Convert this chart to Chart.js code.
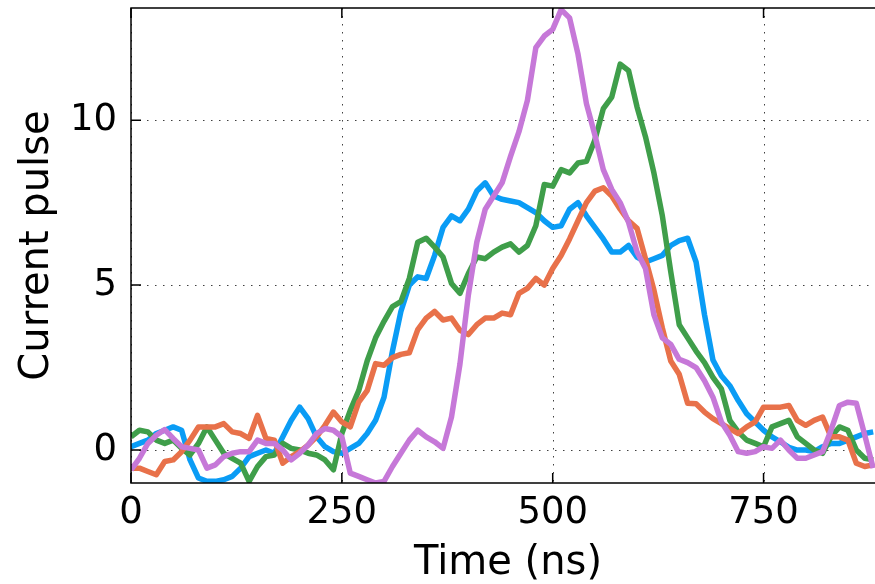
<!DOCTYPE html>
<html>
<head>
<meta charset="utf-8">
<script src="https://cdn.jsdelivr.net/npm/chart.js@4"></script>
<style>
    html, body { margin: 0; padding: 0; overflow: hidden; background: #fff; }
    #wrap { width: 885px; height: 584px; }
</style>
</head>
<body>
<div id="wrap"><canvas id="chart" width="885" height="584"></canvas></div>
<script>
// time axis (ns)
const timeNs = [0, 10, 20, 30, 40, 50, 60, 70, 80, 90, 100, 110, 120, 130, 140, 150, 160, 170, 180, 190,
    200, 210, 220, 230, 240, 250, 260, 270, 280, 290, 300, 310, 320, 330, 340, 350, 360, 370, 380, 390,
    400, 410, 420, 430, 440, 450, 460, 470, 480, 490, 500, 510, 520, 530, 540, 550, 560, 570, 580, 590,
    600, 610, 620, 630, 640, 650, 660, 670, 680, 690, 700, 710, 720, 730, 740, 750, 760, 770, 780, 790,
    800, 810, 820, 830, 840, 850, 860, 870, 880];

const pulseBlue = [0.1, 0.2, 0.3, 0.5, 0.6, 0.7, 0.6, -0.3, -0.85, -0.95, -0.95, -0.9, -0.8, -0.55, -0.2, -0.1, 0.0, -0.1, 0.4, 0.9,
    1.3, 0.95, 0.4, 0.1, -0.05, -0.1, 0.05, 0.2, 0.5, 0.9, 1.6, 3.0, 4.2, 5.0, 5.25, 5.2, 5.9, 6.75, 7.1, 6.95,
    7.3, 7.85, 8.1, 7.7, 7.6, 7.55, 7.5, 7.35, 7.2, 6.95, 6.75, 6.8, 7.3, 7.5, 7.1, 6.75, 6.4, 6.0, 6.0, 6.2,
    5.85, 5.7, 5.8, 5.9, 6.2, 6.35, 6.42, 5.7, 4.1, 2.73, 2.25, 1.95, 1.5, 1.1, 0.85, 0.6, 0.4, 0.25, 0.08, 0.0,
    0.0, -0.05, 0.1, 0.2, 0.2, 0.3, 0.4, 0.5, 0.55];

const pulseGreen = [0.4, 0.6, 0.55, 0.3, 0.2, 0.3, 0.05, -0.15, 0.2, 0.7, 0.3, -0.1, -0.25, -0.4, -0.95, -0.5, -0.2, -0.15, 0.2, 0.05,
    0.0, -0.1, -0.15, -0.3, -0.6, 0.5, 1.2, 1.8, 2.7, 3.4, 3.9, 4.35, 4.5, 5.2, 6.3, 6.42, 6.15, 5.85, 5.05, 4.75,
    5.35, 5.85, 5.8, 6.0, 6.15, 6.25, 6.0, 6.2, 6.8, 8.05, 8.0, 8.5, 8.4, 8.7, 8.75, 9.4, 10.35, 10.7, 11.7, 11.5,
    10.4, 9.5, 8.4, 7.1, 5.4, 3.8, 3.4, 3.0, 2.65, 2.2, 1.85, 0.9, 0.55, 0.3, 0.2, 0.1, 0.7, 0.8, 0.9, 0.4,
    0.2, 0.0, -0.1, 0.4, 0.7, 0.6, 0.0, -0.25, -0.3];

const pulseOrange = [-0.55, -0.55, -0.65, -0.75, -0.35, -0.3, -0.05, 0.3, 0.7, 0.7, 0.7, 0.8, 0.55, 0.5, 0.35, 1.05, 0.35, 0.3, -0.4, -0.2,
    -0.05, 0.15, 0.4, 0.75, 1.15, 0.85, 0.7, 1.45, 1.8, 2.62, 2.57, 2.8, 2.9, 2.95, 3.65, 4.0, 4.2, 3.94, 4.0, 3.63,
    3.5, 3.8, 4.0, 4.0, 4.15, 4.1, 4.75, 4.9, 5.2, 5.0, 5.5, 5.9, 6.4, 6.95, 7.5, 7.85, 7.95, 7.7, 7.3, 6.95,
    6.72, 5.8, 4.85, 3.7, 2.7, 2.3, 1.42, 1.4, 1.15, 0.95, 0.8, 0.65, 0.5, 0.7, 0.85, 1.3, 1.3, 1.3, 1.35, 0.9,
    0.75, 0.9, 1.0, 0.4, 0.4, 0.3, -0.4, -0.5, -0.45];

const pulsePurple = [-0.6, -0.25, 0.2, 0.45, 0.62, 0.35, 0.1, 0.05, 0.0, -0.55, -0.45, -0.2, -0.1, -0.05, -0.05, 0.3, 0.2, 0.2, 0.0, -0.3,
    -0.1, 0.15, 0.5, 0.65, 0.6, 0.4, -0.7, -0.8, -0.9, -1.0, -0.95, -0.5, -0.1, 0.3, 0.6, 0.4, 0.25, 0.05, 1.0, 2.6,
    4.7, 6.3, 7.3, 7.7, 8.1, 8.9, 9.65, 10.6, 12.2, 12.55, 12.75, 13.35, 13.1, 12.0, 10.5, 9.55, 8.5, 7.9, 7.5, 6.9,
    6.0, 5.5, 4.1, 3.4, 3.2, 2.75, 2.65, 2.5, 2.1, 1.6, 0.85, 0.45, -0.05, -0.1, -0.05, 0.1, 0.05, 0.3, 0.0, -0.25,
    -0.25, -0.15, -0.05, 0.6, 1.35, 1.45, 1.42, 0.45, -0.55];

const xTicks = [0, 250, 500, 750];
const yTicks = [0, 5, 10];

const FONT = "'DejaVu Sans', sans-serif";

function toPoints(values) {
    return values.map((v, i) => ({ x: timeNs[i], y: v }));
}

function lineSet(values, color) {
    return {
        data: toPoints(values),
        borderColor: color,
        borderWidth: 5.5,
        pointRadius: 0,
        tension: 0,
        borderJoinStyle: 'round',
        fill: false
    };
}

// dotted grid below the lines
const gridPlugin = {
    id: 'dottedGrid',
    beforeDatasetsDraw(chart) {
        const { ctx, chartArea: a, scales: { x, y } } = chart;
        ctx.save();
        ctx.strokeStyle = 'rgba(0,0,0,0.75)';
        ctx.lineWidth = 1;
        ctx.setLineDash([1.5, 6.5]);
        ctx.beginPath();
        xTicks.forEach(v => {
            const px = Math.round(x.getPixelForValue(v)) + 0.5;
            ctx.moveTo(px, a.top);
            ctx.lineTo(px, a.bottom);
        });
        yTicks.forEach(v => {
            const py = Math.round(y.getPixelForValue(v)) + 0.5;
            ctx.moveTo(a.left, py);
            ctx.lineTo(a.right, py);
        });
        ctx.stroke();
        ctx.restore();
    }
};

// frame and inward tick marks on top
const framePlugin = {
    id: 'frame',
    afterDatasetsDraw(chart) {
        const { ctx, chartArea: a, scales: { x, y } } = chart;
        ctx.save();
        ctx.strokeStyle = '#000';
        ctx.lineWidth = 1.5;
        ctx.strokeRect(a.left, a.top, a.right - a.left, a.bottom - a.top);
        ctx.beginPath();
        xTicks.forEach(v => {
            const px = x.getPixelForValue(v);
            ctx.moveTo(px, a.bottom);
            ctx.lineTo(px, a.bottom - 10);
            ctx.moveTo(px, a.top);
            ctx.lineTo(px, a.top + 10);
        });
        yTicks.forEach(v => {
            const py = y.getPixelForValue(v);
            ctx.moveTo(a.left, py);
            ctx.lineTo(a.left + 10, py);
            ctx.moveTo(a.right, py);
            ctx.lineTo(a.right - 10, py);
        });
        ctx.stroke();
        ctx.restore();
    }
};

new Chart(document.getElementById('chart'), {
    type: 'line',
    data: {
        datasets: [
            lineSet(pulsePurple, '#c678d8'),
            lineSet(pulseOrange, '#e8714a'),
            lineSet(pulseGreen, '#3f9e4a'),
            lineSet(pulseBlue, '#0a9cf5')
        ]
    },
    options: {
        responsive: false,
        animation: false,
        layout: { padding: { top: 8, left: 0, right: 0, bottom: 0 } },
        plugins: {
            legend: { display: false },
            tooltip: { enabled: false }
        },
        scales: {
            x: {
                type: 'linear',
                min: 0,
                max: 894,
                grid: { display: false },
                border: { display: false },
                afterBuildTicks: s => { s.ticks = xTicks.map(v => ({ value: v })); },
                afterFit: s => {
                    s.height = 101;
                    s.paddingLeft = 0;
                    s.paddingRight = 0;
                },
                ticks: {
                    autoSkip: false,
                    maxRotation: 0,
                    padding: 0,
                    color: '#000',
                    font: { family: FONT, size: 37 }
                },
                title: {
                    display: true,
                    text: 'Time (ns)',
                    color: '#000',
                    padding: { top: 0, bottom: 0 },
                    font: { family: FONT, size: 40, lineHeight: 1 }
                }
            },
            y: {
                type: 'linear',
                min: -1,
                max: 13.4,
                grid: { display: false },
                border: { display: false },
                afterBuildTicks: s => { s.ticks = yTicks.map(v => ({ value: v })); },
                afterFit: s => {
                    s.width = 131;
                    s.paddingTop = 0;
                    s.paddingBottom = 0;
                },
                ticks: {
                    padding: 6,
                    color: '#000',
                    font: { family: FONT, size: 37 }
                },
                title: {
                    display: true,
                    text: 'Current pulse',
                    color: '#000',
                    padding: { top: 18, bottom: 0 },
                    font: { family: FONT, size: 40, lineHeight: 1 }
                }
            }
        }
    },
    plugins: [gridPlugin, framePlugin]
});
</script>
</body>
</html>
